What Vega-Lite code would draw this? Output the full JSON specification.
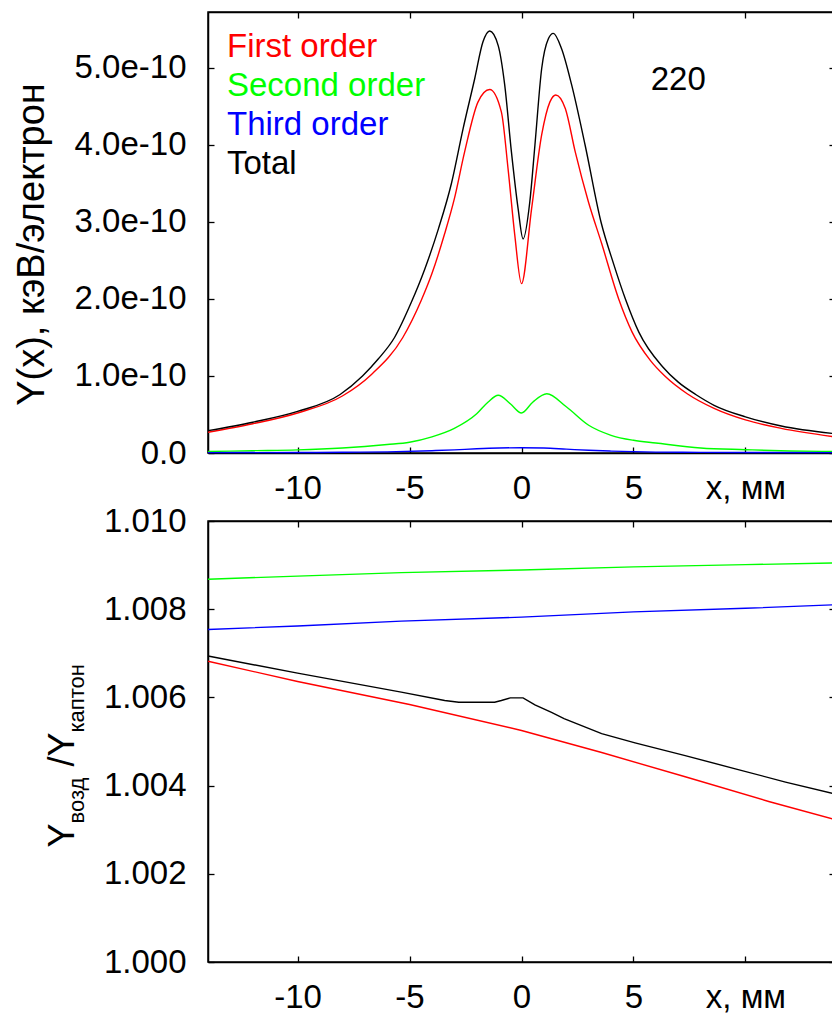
{
  "$schema": "https://vega.github.io/schema/vega-lite/v6.json",
  "padding": {"left": 12, "top": 10, "right": 0, "bottom": 0},
  "background": "white",
  "bounds": "flush",
  "spacing": 68,
  "config": {
    "font": "Liberation Sans",
    "view": {"stroke": "black", "strokeWidth": 1.5},
    "axis": {"grid": false, "domainColor": "black", "domainWidth": 1.5, "tickColor": "black", "tickWidth": 1.3, "tickSize": -6, "labelFont": "Liberation Sans", "labelFontSize": 33, "labelColor": "black", "titleFont": "Liberation Sans", "titleColor": "black", "titleFontWeight": "normal"},
    "line": {"strokeWidth": 1.4}
  },
  "datasets": {
    "top": [
      {"s": "First order", "x": -14, "y": 0.27e-10},
      {"s": "First order", "x": -12, "y": 0.38e-10},
      {"s": "First order", "x": -10, "y": 0.52e-10},
      {"s": "First order", "x": -8, "y": 0.74e-10},
      {"s": "First order", "x": -6.7, "y": 1.02e-10},
      {"s": "First order", "x": -5.3, "y": 1.5e-10},
      {"s": "First order", "x": -4.48, "y": 1.98e-10},
      {"s": "First order", "x": -4.0, "y": 2.33e-10},
      {"s": "First order", "x": -3.43, "y": 2.85e-10},
      {"s": "First order", "x": -3.0, "y": 3.3e-10},
      {"s": "First order", "x": -2.54, "y": 3.91e-10},
      {"s": "First order", "x": -1.94, "y": 4.56e-10},
      {"s": "First order", "x": -1.42, "y": 4.72e-10},
      {"s": "First order", "x": -0.9, "y": 4.43e-10},
      {"s": "First order", "x": -0.6, "y": 3.69e-10},
      {"s": "First order", "x": -0.3, "y": 2.83e-10},
      {"s": "First order", "x": 0, "y": 2.2e-10},
      {"s": "First order", "x": 0.45, "y": 3.17e-10},
      {"s": "First order", "x": 0.9, "y": 4.13e-10},
      {"s": "First order", "x": 1.27, "y": 4.56e-10},
      {"s": "First order", "x": 1.53, "y": 4.65e-10},
      {"s": "First order", "x": 1.96, "y": 4.47e-10},
      {"s": "First order", "x": 2.4, "y": 3.91e-10},
      {"s": "First order", "x": 2.99, "y": 3.26e-10},
      {"s": "First order", "x": 3.58, "y": 2.72e-10},
      {"s": "First order", "x": 4.34, "y": 2.0e-10},
      {"s": "First order", "x": 4.94, "y": 1.57e-10},
      {"s": "First order", "x": 5.76, "y": 1.2e-10},
      {"s": "First order", "x": 6.4, "y": 1.0e-10},
      {"s": "First order", "x": 7.4, "y": 0.77e-10},
      {"s": "First order", "x": 8.6, "y": 0.58e-10},
      {"s": "First order", "x": 10, "y": 0.43e-10},
      {"s": "First order", "x": 11.6, "y": 0.32e-10},
      {"s": "First order", "x": 14, "y": 0.21e-10},
      {"s": "Second order", "x": -14, "y": 0.02e-10},
      {"s": "Second order", "x": -12, "y": 0.03e-10},
      {"s": "Second order", "x": -10, "y": 0.04e-10},
      {"s": "Second order", "x": -8, "y": 0.065e-10},
      {"s": "Second order", "x": -6, "y": 0.11e-10},
      {"s": "Second order", "x": -5, "y": 0.14e-10},
      {"s": "Second order", "x": -4, "y": 0.21e-10},
      {"s": "Second order", "x": -3, "y": 0.32e-10},
      {"s": "Second order", "x": -2, "y": 0.51e-10},
      {"s": "Second order", "x": -1.5, "y": 0.66e-10},
      {"s": "Second order", "x": -1.04, "y": 0.75e-10},
      {"s": "Second order", "x": -0.5, "y": 0.64e-10},
      {"s": "Second order", "x": 0, "y": 0.52e-10},
      {"s": "Second order", "x": 0.5, "y": 0.66e-10},
      {"s": "Second order", "x": 1.13, "y": 0.77e-10},
      {"s": "Second order", "x": 2, "y": 0.6e-10},
      {"s": "Second order", "x": 3, "y": 0.36e-10},
      {"s": "Second order", "x": 4, "y": 0.23e-10},
      {"s": "Second order", "x": 5, "y": 0.165e-10},
      {"s": "Second order", "x": 6, "y": 0.13e-10},
      {"s": "Second order", "x": 8, "y": 0.065e-10},
      {"s": "Second order", "x": 10, "y": 0.043e-10},
      {"s": "Second order", "x": 12, "y": 0.026e-10},
      {"s": "Second order", "x": 14, "y": 0.02e-10},
      {"s": "Third order", "x": -14, "y": 0.005e-10},
      {"s": "Third order", "x": -10, "y": 0.006e-10},
      {"s": "Third order", "x": -8, "y": 0.01e-10},
      {"s": "Third order", "x": -6, "y": 0.015e-10},
      {"s": "Third order", "x": -4, "y": 0.03e-10},
      {"s": "Third order", "x": -3, "y": 0.04e-10},
      {"s": "Third order", "x": -2, "y": 0.055e-10},
      {"s": "Third order", "x": -1, "y": 0.065e-10},
      {"s": "Third order", "x": 0, "y": 0.068e-10},
      {"s": "Third order", "x": 1, "y": 0.065e-10},
      {"s": "Third order", "x": 2, "y": 0.05e-10},
      {"s": "Third order", "x": 3, "y": 0.035e-10},
      {"s": "Third order", "x": 4, "y": 0.025e-10},
      {"s": "Third order", "x": 6, "y": 0.012e-10},
      {"s": "Third order", "x": 8, "y": 0.008e-10},
      {"s": "Third order", "x": 10, "y": 0.006e-10},
      {"s": "Third order", "x": 14, "y": 0.005e-10},
      {"s": "Total", "x": -14, "y": 0.29e-10},
      {"s": "Total", "x": -12, "y": 0.40e-10},
      {"s": "Total", "x": -10, "y": 0.54e-10},
      {"s": "Total", "x": -8.1, "y": 0.76e-10},
      {"s": "Total", "x": -7.1, "y": 1.0e-10},
      {"s": "Total", "x": -6.4, "y": 1.22e-10},
      {"s": "Total", "x": -5.67, "y": 1.5e-10},
      {"s": "Total", "x": -4.93, "y": 1.95e-10},
      {"s": "Total", "x": -4.33, "y": 2.38e-10},
      {"s": "Total", "x": -3.7, "y": 2.92e-10},
      {"s": "Total", "x": -3.13, "y": 3.5e-10},
      {"s": "Total", "x": -2.61, "y": 4.21e-10},
      {"s": "Total", "x": -2.09, "y": 4.86e-10},
      {"s": "Total", "x": -1.72, "y": 5.34e-10},
      {"s": "Total", "x": -1.42, "y": 5.48e-10},
      {"s": "Total", "x": -1.04, "y": 5.29e-10},
      {"s": "Total", "x": -0.75, "y": 4.78e-10},
      {"s": "Total", "x": -0.45, "y": 3.91e-10},
      {"s": "Total", "x": -0.15, "y": 3.17e-10},
      {"s": "Total", "x": 0.07, "y": 2.78e-10},
      {"s": "Total", "x": 0.37, "y": 3.26e-10},
      {"s": "Total", "x": 0.6, "y": 4.0e-10},
      {"s": "Total", "x": 0.9, "y": 4.99e-10},
      {"s": "Total", "x": 1.2, "y": 5.38e-10},
      {"s": "Total", "x": 1.42, "y": 5.45e-10},
      {"s": "Total", "x": 1.79, "y": 5.25e-10},
      {"s": "Total", "x": 2.24, "y": 4.78e-10},
      {"s": "Total", "x": 2.84, "y": 4.0e-10},
      {"s": "Total", "x": 3.55, "y": 3.0e-10},
      {"s": "Total", "x": 4.12, "y": 2.45e-10},
      {"s": "Total", "x": 4.64, "y": 2.0e-10},
      {"s": "Total", "x": 5.24, "y": 1.57e-10},
      {"s": "Total", "x": 6.3, "y": 1.12e-10},
      {"s": "Total", "x": 7.0, "y": 0.92e-10},
      {"s": "Total", "x": 7.78, "y": 0.76e-10},
      {"s": "Total", "x": 8.6, "y": 0.62e-10},
      {"s": "Total", "x": 10, "y": 0.47e-10},
      {"s": "Total", "x": 11.6, "y": 0.35e-10},
      {"s": "Total", "x": 14, "y": 0.25e-10}
    ],
    "bottom": [
      {"s": "First order", "x": -14, "y": 1.00682},
      {"s": "First order", "x": -10, "y": 1.00636},
      {"s": "First order", "x": -5, "y": 1.00584},
      {"s": "First order", "x": 0, "y": 1.00525},
      {"s": "First order", "x": 3.58, "y": 1.00475},
      {"s": "First order", "x": 7.31, "y": 1.0042},
      {"s": "First order", "x": 11.04, "y": 1.00364},
      {"s": "First order", "x": 14, "y": 1.00323},
      {"s": "Second order", "x": -14, "y": 1.00868},
      {"s": "Second order", "x": -10, "y": 1.00875},
      {"s": "Second order", "x": -5.37, "y": 1.00883},
      {"s": "Second order", "x": 0, "y": 1.00889},
      {"s": "Second order", "x": 5, "y": 1.00896},
      {"s": "Second order", "x": 10, "y": 1.00901},
      {"s": "Second order", "x": 14, "y": 1.00905},
      {"s": "Third order", "x": -14, "y": 1.00754},
      {"s": "Third order", "x": -10, "y": 1.00762},
      {"s": "Third order", "x": -5.37, "y": 1.00773},
      {"s": "Third order", "x": 0, "y": 1.00782},
      {"s": "Third order", "x": 5, "y": 1.00794},
      {"s": "Third order", "x": 10, "y": 1.00802},
      {"s": "Third order", "x": 14, "y": 1.0081},
      {"s": "Total", "x": -14, "y": 1.00694},
      {"s": "Total", "x": -10, "y": 1.00655},
      {"s": "Total", "x": -5.37, "y": 1.00612},
      {"s": "Total", "x": -3.43, "y": 1.00593},
      {"s": "Total", "x": -2.8, "y": 1.00589},
      {"s": "Total", "x": -1.2, "y": 1.00589},
      {"s": "Total", "x": -0.9, "y": 1.00593},
      {"s": "Total", "x": -0.5, "y": 1.00599},
      {"s": "Total", "x": 0.07, "y": 1.00599},
      {"s": "Total", "x": 0.6, "y": 1.00583},
      {"s": "Total", "x": 1.34, "y": 1.00566},
      {"s": "Total", "x": 1.9, "y": 1.00552},
      {"s": "Total", "x": 3.58, "y": 1.00518},
      {"s": "Total", "x": 5.07, "y": 1.00497},
      {"s": "Total", "x": 7.31, "y": 1.00468},
      {"s": "Total", "x": 9.55, "y": 1.00438},
      {"s": "Total", "x": 11.79, "y": 1.00408},
      {"s": "Total", "x": 14, "y": 1.00381}
    ]
  },
  "vconcat": [
    {
      "width": 627,
      "height": 441,
      "data": {"name": "top"},
      "layer": [
        {
          "mark": {"type": "line", "interpolate": "monotone"},
          "encoding": {
            "x": {"field": "x", "type": "quantitative", "scale": {"domain": [-14, 14], "nice": false, "zero": false},
              "axis": {"orient": "bottom", "values": [-10, -5, 0, 5, 10], "labelExpr": "datum.value == 10 ? 'x, мм' : '' + datum.value", "title": null, "labelPadding": 25, "labelFlush": false, "labelOverlap": false}},
            "y": {"field": "y", "type": "quantitative", "scale": {"domain": [0, 5.727e-10], "nice": false, "zero": false},
              "axis": {"orient": "left", "values": [0, 1e-10, 2e-10, 3e-10, 4e-10, 5e-10], "labelExpr": "datum.value == 0 ? '0.0' : format(datum.value * 1e10, '.1f') + 'e-10'", "labelPadding": 28, "labelOverlap": false, "title": "Y(x), кэВ/электрон", "titleFontSize": 38, "titleAngle": -90, "titleAlign": "center", "titleBaseline": "alphabetic", "titleX": -165, "titleY": 232}},
            "color": {"field": "s", "type": "nominal",
              "scale": {"domain": ["First order", "Second order", "Third order", "Total"], "range": ["#ff0000", "#00ff00", "#0000ff", "#000000"]},
              "legend": {"orient": "none", "legendX": -14, "legendY": 18, "title": null, "symbolSize": 0, "symbolStrokeWidth": 0, "symbolOpacity": 0, "labelOffset": 0, "labelFontSize": 33, "labelLimit": 500, "rowPadding": 5, "padding": 0,
                "labelColor": {"expr": "scale('color', datum.value)"}}}
          }
        },
        {
          "mark": {"type": "line", "opacity": 0},
          "encoding": {
            "x": {"field": "x", "type": "quantitative", "scale": {"domain": [-14, 14], "nice": false, "zero": false},
              "axis": {"orient": "top", "values": [-10, -5, 0, 5, 10], "labels": false, "title": null}},
            "y": {"field": "y", "type": "quantitative", "scale": {"domain": [0, 5.727e-10], "nice": false, "zero": false},
              "axis": {"orient": "right", "values": [0, 1e-10, 2e-10, 3e-10, 4e-10, 5e-10], "labels": false, "title": null}},
            "detail": {"field": "s"}
          }
        },
        {
          "data": {"values": [{"t": "220"}]},
          "mark": {"type": "text", "fontSize": 33, "align": "center", "baseline": "alphabetic", "color": "black", "font": "Liberation Sans"},
          "encoding": {
            "x": {"datum": 7, "type": "quantitative", "axis": null},
            "y": {"datum": 4.72e-10, "type": "quantitative", "axis": null},
            "text": {"field": "t"}
          }
        }
      ],
      "resolve": {"axis": {"x": "independent", "y": "independent"}}
    },
    {
      "width": 627,
      "height": 441,
      "data": {"name": "bottom"},
      "layer": [
        {
          "mark": {"type": "line"},
          "encoding": {
            "x": {"field": "x", "type": "quantitative", "scale": {"domain": [-14, 14], "nice": false, "zero": false},
              "axis": {"orient": "bottom", "values": [-10, -5, 0, 5, 10], "labelExpr": "datum.value == 10 ? 'x, мм' : '' + datum.value", "labelPadding": 25, "labelFlush": false, "labelOverlap": false,
                "title": "каптон", "titleFontSize": 22, "titleAngle": -90, "titleAlign": "left", "titleBaseline": "alphabetic", "titleX": -125, "titleY": -230}},
            "y": {"field": "y", "type": "quantitative", "scale": {"domain": [1.0, 1.01], "nice": false, "zero": false},
              "axis": {"orient": "left", "values": [1.0, 1.002, 1.004, 1.006, 1.008, 1.01], "format": ".3f", "labelPadding": 28, "labelOverlap": false,
                "title": "Y", "titleFontSize": 36, "titleAngle": -90, "titleAlign": "left", "titleBaseline": "alphabetic", "titleX": -135, "titleY": 326}},
            "color": {"field": "s", "type": "nominal",
              "scale": {"domain": ["First order", "Second order", "Third order", "Total"], "range": ["#ff0000", "#00ff00", "#0000ff", "#000000"]},
              "legend": null}
          }
        },
        {
          "mark": {"type": "line", "opacity": 0},
          "encoding": {
            "x": {"field": "x", "type": "quantitative", "scale": {"domain": [-14, 14], "nice": false, "zero": false},
              "axis": {"orient": "top", "values": [-10, -5, 0, 5, 10], "labels": false,
                "title": "/Y", "titleFontSize": 36, "titleAngle": -90, "titleAlign": "left", "titleBaseline": "alphabetic", "titleX": -135, "titleY": 245}},
            "y": {"field": "y", "type": "quantitative", "scale": {"domain": [1.0, 1.01], "nice": false, "zero": false},
              "axis": {"orient": "right", "values": [1.0, 1.002, 1.004, 1.006, 1.008, 1.01], "labels": false,
                "title": "возд", "titleFontSize": 22, "titleAngle": -90, "titleAlign": "left", "titleBaseline": "alphabetic", "titleX": -752, "titleY": 302}},
            "detail": {"field": "s"}
          }
        }
      ],
      "resolve": {"axis": {"x": "independent", "y": "independent"}}
    }
  ]
}
